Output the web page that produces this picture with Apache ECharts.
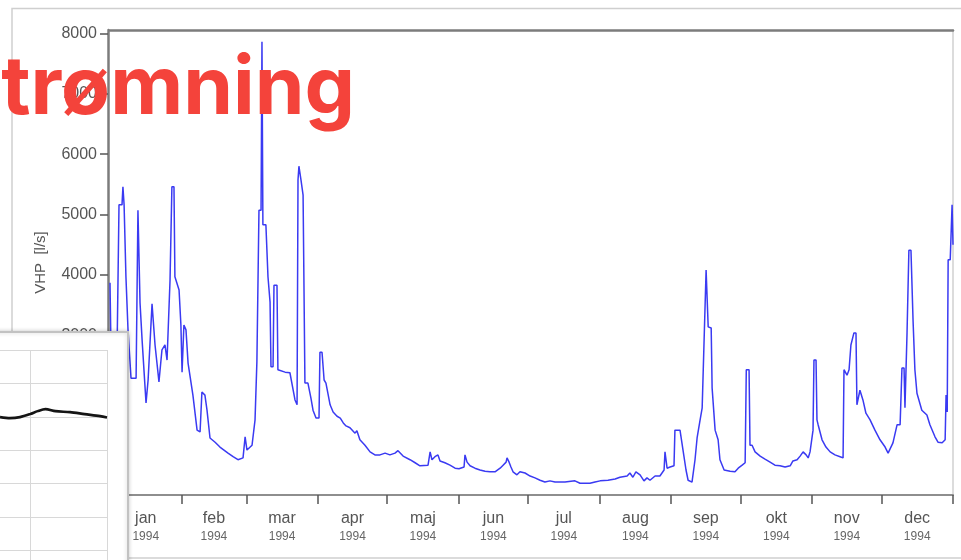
<!DOCTYPE html>
<html>
<head>
<meta charset="utf-8">
<script src="https://cdn.jsdelivr.net/npm/echarts@6/dist/echarts.min.js"></script>
<style>
  html, body { margin: 0; padding: 0; background: #ffffff; }
  #chart { width: 961px; height: 560px; }
</style>
</head>
<body>
<div id="chart"></div>
<script>
// Month axis (day of year, 1994)
const months = ['jan', 'feb', 'mar', 'apr', 'maj', 'jun', 'jul', 'aug', 'sep', 'okt', 'nov', 'dec'];
const monthStarts = [0, 31, 59, 90, 120, 151, 181, 212, 243, 273, 304, 334, 365];
const yearLabel = '1994';

// Flow tick labels
const flowTicks = [1000, 2000, 3000, 4000, 5000, 6000, 7000, 8000];

// Daily discharge hydrograph: day of year and flow [l/s]
const flowDays = [
  0, 0.4, 3.0, 3.9, 5.2, 5.6, 6.1, 6.9, 7.8, 9.1, 11.3, 12.1, 13.0, 13.9, 15.6, 16.5, 18.2, 19.5, 21.2, 22.5,
  23.8, 24.7, 26.0, 26.8, 27.7, 28.1, 29.9, 30.7, 31.2, 32.0, 32.9, 33.8, 35.9, 37.7, 39.0, 39.8, 41.1, 42.0, 43.3, 45.5,
  47.6, 51.1, 53.3, 55.4, 57.6, 58.5, 59.3, 61.5, 62.8, 63.6, 64.5, 65.4, 65.8, 66.2, 67.5, 68.4, 69.3, 69.7, 70.6, 71.0,
  72.3, 72.7, 75.8, 77.9, 80.1, 81.0, 81.4, 81.8, 82.7, 83.6, 84.4, 85.7, 87.0, 87.9, 89.2, 90.5, 90.9, 91.8, 92.7, 93.5,
  95.3, 96.6, 98.3, 99.7, 101.0, 102.2, 103.9, 106.1, 106.9, 108.2, 110.4, 112.6, 114.7, 116.9, 119.1, 121.2, 123.4, 124.7, 126.9, 129.9,
  132.1, 134.2, 137.7, 138.6, 139.4, 140.7, 142.0, 142.9, 145.0, 147.2, 149.4, 151.1, 153.3, 153.7, 154.6, 155.9, 158.0, 160.2, 162.4, 164.5,
  166.7, 168.9, 170.2, 171.5, 171.9, 172.8, 173.6, 174.5, 176.2, 177.5, 179.7, 181.9, 184.0, 186.2, 188.3, 190.5, 192.7, 197.0, 201.3, 203.5,
  207.8, 210.0, 212.2, 215.6, 218.7, 220.8, 223.9, 225.1, 226.4, 227.7, 229.5, 231.2, 232.5, 233.8, 236.0, 238.1, 239.9, 240.3, 241.2, 242.5,
  244.2, 244.6, 246.8, 248.1, 249.4, 250.3, 252.0, 253.3, 254.2, 255.5, 256.4, 257.2, 258.1, 258.5, 259.0, 260.3, 260.7, 262.0, 263.3, 264.1,
  265.9, 268.5, 270.6, 272.0, 273.7, 275.0, 275.5, 276.7, 277.1, 278.0, 279.3, 281.5, 283.6, 285.8, 287.9, 290.1, 292.3, 294.5, 295.7, 297.5,
  298.8, 300.1, 301.4, 302.3, 303.1, 304.4, 304.8, 305.7, 306.1, 306.6, 308.3, 310.0, 311.8, 313.9, 316.1, 317.4, 317.8, 319.1, 320.0, 320.8,
  322.1, 323.0, 323.4, 324.7, 326.0, 327.3, 329.1, 331.2, 333.4, 335.6, 336.9, 337.7, 339.0, 340.8, 342.1, 342.9, 343.8, 344.2, 344.6, 345.1,
  345.9, 346.8, 347.7, 348.5, 349.4, 351.5, 353.7, 355.0, 357.2, 358.5, 360.3, 361.6, 362.0, 362.5, 362.9, 363.8, 364.6, 365.0
];
const flowValues = [
  3870, 2840, 2590, 5160, 5160, 5460, 5160, 3970, 3090, 2290, 2290, 5070, 3540, 2920, 1880, 2260, 3520, 2840, 2230, 2760,
  2840, 2590, 3920, 5460, 5460, 3970, 3750, 3170, 2390, 3170, 3090, 2540, 2010, 1430, 1400, 2060, 2010, 1760, 1300, 1230,
  1150, 1050, 990, 940, 970, 1320, 1100, 1180, 1600, 2560, 5070, 5070, 7860, 4830, 4830, 3970, 3550, 2480, 2480, 3830,
  3830, 2430, 2390, 2380, 1930, 1850, 5570, 5800, 5570, 5320, 2210, 2210, 1960, 1760, 1630, 1630, 2720, 2720, 2260, 2210,
  1850, 1730, 1660, 1630, 1550, 1500, 1470, 1380, 1420, 1270, 1180, 1070, 1020, 1020, 1050, 1020, 1050, 1090, 1000, 940,
  890, 840, 850, 1070, 940, 990, 1020, 920, 890, 850, 800, 790, 820, 1020, 900, 840, 800, 770, 750, 740,
  740, 800, 850, 900, 970, 900, 820, 740, 690, 740, 720, 670, 640, 600, 570, 590, 570, 570, 590, 550,
  550, 570, 590, 600, 620, 650, 670, 720, 650, 740, 690, 590, 640, 600, 670, 670, 770, 1070, 800, 820,
  840, 1430, 1430, 1100, 770, 600, 570, 940, 1300, 1600, 1800, 1800, 4080, 4080, 3140, 3120, 2130, 1430, 1270, 940,
  770, 750, 740, 800, 850, 890, 2430, 2430, 1180, 1180, 1070, 1000, 950, 900, 850, 840, 820, 840, 920, 940,
  1000, 1070, 1020, 970, 1070, 1430, 2590, 2590, 1600, 1520, 1270, 1150, 1070, 1020, 990, 970, 2430, 2340, 2430, 2840,
  3040, 3040, 1850, 2090, 1930, 1710, 1600, 1430, 1270, 1150, 1050, 1070, 1220, 1520, 1520, 2460, 2460, 1800, 1800, 3040,
  4410, 4410, 3250, 2430, 2040, 1760, 1680, 1520, 1320, 1230, 1220, 1270, 2010, 1730, 4250, 4250, 5160, 4500
];

// Inset profile (grid units; vertical axis runs downward)
const insetGridX = [0, 1];
const insetX = [-0.39, -0.26, -0.13, 0.00, 0.10, 0.20, 0.33, 0.52, 0.71, 0.91, 1.00];
const insetY = [2.01, 2.04, 2.01, 1.92, 1.83, 1.77, 1.83, 1.86, 1.92, 1.98, 2.02];

const titleText = 'strømning';
const flowAxisName = 'VHP  [l/s]';

const midMonths = months.map((m, i) => (monthStarts[i] + monthStarts[i + 1]) / 2);
const flowData = flowDays.map((d, i) => [d, flowValues[i]]);
const insetData = insetX.map((x, i) => [x, insetY[i]]);

const chart = echarts.init(document.getElementById('chart'), null, { renderer: 'canvas' });

const labelFont = '"Liberation Sans", Arial, sans-serif';

chart.setOption({
  animation: false,
  backgroundColor: '#ffffff',
  grid: [
    { left: 110, right: 8, top: 30, bottom: 65, show: false },
    { left: 0, top: 350, width: 107, bottom: 0, show: false }
  ],
  xAxis: [
    {
      type: 'value', gridIndex: 0, min: 0, max: 365, position: 'bottom',
      axisLine: { onZero: false, lineStyle: { color: '#8e8e8e', width: 2 } },
      axisTick: { customValues: monthStarts, length: 9, lineStyle: { color: '#555', width: 1.5 } },
      axisLabel: {
        customValues: midMonths,
        margin: 13,
        formatter: function (v) {
          let idx = 0;
          midMonths.forEach((m, i) => { if (Math.abs(m - v) < 1) idx = i; });
          return '{m|' + months[idx] + '}\n{y|' + yearLabel + '}';
        },
        rich: {
          m: { fontFamily: labelFont, fontSize: 16, color: '#555', lineHeight: 21 },
          y: { fontFamily: labelFont, fontSize: 12, color: '#666', lineHeight: 15 }
        }
      },
      splitLine: { show: false }
    },
    {
      type: 'value', gridIndex: 0, min: 0, max: 365, position: 'top',
      axisLine: { onZero: false, lineStyle: { color: '#7c7c7c', width: 2.5 } },
      axisTick: { show: false }, axisLabel: { show: false }, splitLine: { show: false }
    },
    {
      type: 'value', gridIndex: 1, min: -0.39, max: 1, z: 10,
      axisLine: { show: false },
      axisTick: { show: false, customValues: insetGridX },
      axisLabel: { show: false },
      splitLine: { show: true, lineStyle: { color: '#d8d8d8', width: 1 } }
    }
  ],
  yAxis: [
    {
      type: 'value', gridIndex: 0, min: 356, max: 8055, position: 'left', offset: 2,
      name: flowAxisName, nameLocation: 'middle', nameRotate: 90, nameGap: 60,
      nameTextStyle: { fontFamily: labelFont, fontSize: 15, color: '#555' },
      axisLine: { onZero: false, lineStyle: { color: '#7c7c7c', width: 2.5 } },
      axisTick: { customValues: flowTicks, length: 8, lineStyle: { color: '#555', width: 1.5 } },
      axisLabel: {
        customValues: flowTicks, margin: 11, fontFamily: labelFont, fontSize: 16, color: '#555',
        formatter: v => String(v)
      },
      splitLine: { show: false }
    },
    {
      type: 'value', gridIndex: 0, min: 356, max: 8055, position: 'right',
      axisLine: { onZero: false, lineStyle: { color: '#d0d0d0', width: 1.5 } },
      axisTick: { show: false }, axisLabel: { show: false }, splitLine: { show: false }
    },
    {
      type: 'value', gridIndex: 1, min: 0, max: 6.287, interval: 1, inverse: true, z: 10,
      axisLine: { show: false }, axisTick: { show: false }, axisLabel: { show: false },
      splitLine: { show: true, lineStyle: { color: '#d8d8d8', width: 1 } }
    }
  ],
  series: [
    {
      name: 'flow', type: 'line', xAxisIndex: 0, yAxisIndex: 0, data: flowData,
      showSymbol: false, z: 2,
      lineStyle: { color: '#3a3af2', width: 1.5 }
    },
    {
      name: 'inset', type: 'line', xAxisIndex: 2, yAxisIndex: 2, data: insetData,
      showSymbol: false, smooth: 0.3, z: 12,
      lineStyle: { color: '#151515', width: 2.6 }
    }
  ],
  graphic: [
    {
      type: 'rect', z: 0, silent: true,
      shape: { x: 12, y: 8.5, width: 960, height: 549.5 },
      style: { fill: 'none', stroke: '#cfcfcf', lineWidth: 1.5 }
    },
    {
      type: 'rect', z: 5, silent: true,
      shape: { x: -6, y: 332, width: 134, height: 240 },
      style: { fill: '#ffffff', stroke: '#c2c2c2', lineWidth: 2, shadowBlur: 4, shadowColor: 'rgba(0,0,0,0.18)' }
    },
    {
      type: 'text', z: 20, silent: true, x: 355, y: 90,
      style: {
        text: titleText, fill: '#f4433b',
        font: 'bold 80px Inter, "Open Sans", sans-serif',
        textAlign: 'right', textVerticalAlign: 'middle', align: 'right', verticalAlign: 'middle'
      }
    }
  ]
});
</script>
</body>
</html>
